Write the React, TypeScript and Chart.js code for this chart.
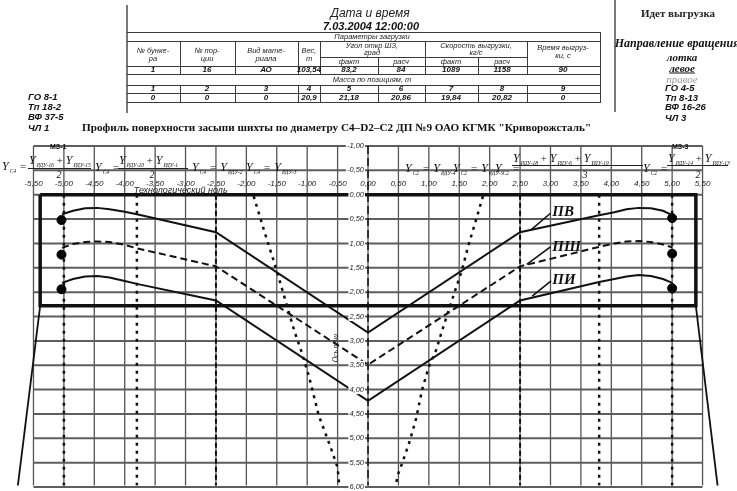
import React, { useEffect, useRef } from "react";
import { Chart, registerables } from "chart.js";

Chart.register(...registerables);

// ---------- DATA ----------
const profileX = [-5.03, -4.85, -4.65, -4.45, -4.25, -4.0, -3.8, -2.5, 0, 2.5, 3.8, 4.05, 4.25, 4.45, 4.65, 4.85, 5.0];
const pvY = [0.40, 0.33, 0.28, 0.27, 0.30, 0.35, 0.40, 0.77, 2.83, 0.77, 0.42, 0.36, 0.30, 0.27, 0.28, 0.33, 0.42];
const pshY = [1.09, 1.01, 0.97, 0.96, 0.97, 1.03, 1.10, 1.47, 3.49, 1.47, 1.07, 1.00, 0.96, 0.95, 0.97, 1.02, 1.08];
const piY = [1.81, 1.73, 1.68, 1.67, 1.70, 1.77, 1.83, 2.17, 4.23, 2.17, 1.79, 1.73, 1.68, 1.65, 1.67, 1.73, 1.81];

const dotsX = [-5.04, -5.04, -5.04, 5.0, 5.0, 5.0];
const dotsY = [0.52, 1.23, 1.94, 0.48, 1.21, 1.92];

const trajLeftX = [-1.88, -1.70, -1.50, -1.37, -1.21, -1.10, -0.97, -0.81, -0.61, -0.50, -0.47];
const trajLeftY = [0.03, 0.77, 1.56, 2.12, 2.80, 3.20, 3.73, 4.53, 5.20, 5.60, 6.0];
const trajRightX = [1.89, 1.78, 1.65, 1.54, 1.41, 1.21, 1.12, 1.00, 0.89, 0.79, 0.68, 0.57, 0.49, 0.45];
const trajRightY = [0.03, 0.50, 1.04, 1.57, 2.05, 2.82, 3.19, 3.53, 4.00, 4.60, 5.08, 5.48, 5.75, 6.0];

const frameX = [-5.39, 5.39, 5.39, -5.39, -5.39];
const frameY = [0, 0, 2.28, 2.28, 0];
const slantLeftX = [-5.39, -5.76];
const slantRightX = [5.39, 5.75];
const slantY = [2.28, 6.0];

const dottedGuidesX = [-5.0, -3.8, 3.8, 5.0];
const dashedGuidesX = [-2.5, 2.5];
const axisGuideY = [-1, 6];
const guideY = [0, 6];

const seriesNames = ["ПВ", "ПШ", "ПИ"];
const leaderFromX = [3.0, 3.0, 3.01];
const leaderFromY = [0.38, 1.07, 1.77];
const leaderToX = [2.67, 2.61, 2.70];
const leaderToY = [0.73, 1.43, 2.08];
const nameX = [3.03, 3.03, 3.03];
const nameY = [0.36, 1.07, 1.76];

const xTickValues = [-5.5, -5, -4.5, -4, -3.5, -3, -2.5, -2, -1.5, -1, -0.5, 0, 0.5, 1, 1.5, 2, 2.5, 3, 3.5, 4, 4.5, 5, 5.5];
const xTickLabels = ["-5,50", "-5,00", "-4,50", "-4,00", "-3,50", "-3,00", "-2,50", "-2,00", "-1,50", "-1,00", "-0,50", "0,00", "0,50", "1,00", "1,50", "2,00", "2,50", "3,00", "3,50", "4,00", "4,50", "5,00", "5,50"];
const yTickValues = [-1, -0.5, 0, 0.5, 1, 1.5, 2, 2.5, 3, 3.5, 4, 4.5, 5, 5.5, 6];
const yTickLabels = ["-1,00", "-0,50", "0,00", "0,50", "1,00", "1,50", "2,00", "2,50", "3,00", "3,50", "4,00", "4,50", "5,00", "5,50", "6,00"];

// table content
const colCenters = [153, 207, 266, 309, 349, 401, 451, 502, 563];
const loadRow = ["1", "16", "АО", "103,54", "83,2", "84", "1089", "1158", "90"];
const positionRow = ["1", "2", "3", "4", "5", "6", "7", "8", "9"];
const massRow = ["0", "0", "0", "20,9", "21,18", "20,86", "19,84", "20,82", "0"];

// ---------- helpers ----------
const pts = (xs: number[], ys: number[]) => xs.map((x, i) => ({ x, y: ys[i] }));

const paperPlugin = {
  id: "paper",
  beforeDatasetsDraw(chart: any) {
    const { ctx, scales } = chart;
    const x = scales.x, y = scales.y;
    ctx.save();
    ctx.strokeStyle = "#555";
    ctx.lineWidth = 1.3;
    const top = y.getPixelForValue(-1);
    for (const v of xTickValues) {
      const px = x.getPixelForValue(v);
      ctx.beginPath();
      ctx.moveTo(px, top);
      ctx.lineTo(px, y.bottom);
      ctx.stroke();
    }
    ctx.strokeStyle = "#5e5e5e";
    ctx.lineWidth = 2;
    const l = x.getPixelForValue(-5.5), r = x.getPixelForValue(5.5);
    for (const v of yTickValues) {
      const py = y.getPixelForValue(v);
      ctx.beginPath();
      ctx.moveTo(l, py);
      ctx.lineTo(r, py);
      ctx.stroke();
    }
    ctx.restore();
  },
  afterDatasetsDraw(chart: any) {
    const { ctx, scales } = chart;
    const x = scales.x, y = scales.y;
    ctx.save();
    // x tick labels
    ctx.font = "italic 8px 'Liberation Sans', Arial, sans-serif";
    ctx.fillStyle = "#222";
    ctx.textAlign = "center";
    ctx.textBaseline = "middle";
    xTickValues.forEach((v, i) => {
      ctx.fillText(xTickLabels[i], x.getPixelForValue(v), 184);
    });
    // y tick labels along the furnace axis
    ctx.font = "italic 7.5px 'Liberation Sans', Arial, sans-serif";
    ctx.textAlign = "right";
    const x0 = x.getPixelForValue(0);
    yTickValues.forEach((v, i) => {
      const py = y.getPixelForValue(v);
      const w = ctx.measureText(yTickLabels[i]).width;
      ctx.fillStyle = "#fff";
      ctx.fillRect(x0 - 4 - w - 1, py - 4.5, w + 2, 9);
      ctx.fillStyle = "#222";
      ctx.fillText(yTickLabels[i], x0 - 4, py);
    });
    // Технологический ноль
    ctx.font = "italic 9px 'Liberation Sans', Arial, sans-serif";
    ctx.textAlign = "center";
    ctx.fillStyle = "#222";
    ctx.fillText("Технологический ноль", x.getPixelForValue(-3.08), 190);
    // Ось печи (rotated)
    ctx.save();
    ctx.translate(x.getPixelForValue(-0.53), y.getPixelForValue(3.15));
    ctx.rotate(-Math.PI / 2);
    ctx.font = "italic 7.5px 'Liberation Serif', serif";
    ctx.fillText("Ось печи", 0, 0);
    ctx.restore();
    // series names
    ctx.font = "bold italic 15px 'Liberation Serif', serif";
    ctx.textAlign = "left";
    ctx.fillStyle = "#111";
    seriesNames.forEach((n, i) => {
      ctx.fillText(n, x.getPixelForValue(nameX[i]), y.getPixelForValue(nameY[i]));
    });
    ctx.restore();
  },
};

// ---------- small DOM helpers ----------
const T = ({ x, y, children, style, anchor = "left" }: any) => {
  const tx = anchor === "center" ? "-50%" : anchor === "right" ? "-100%" : "0";
  return (
    <div
      style={{
        position: "absolute",
        left: x,
        top: y,
        transform: `translate(${tx}, -50%)`,
        whiteSpace: "nowrap",
        lineHeight: 1,
        ...style,
      }}
    >
      {children}
    </div>
  );
};

const HL = ({ x1, x2, y, c = "#3a3a3a", w = 1 }: any) => (
  <div style={{ position: "absolute", left: x1, top: y, width: x2 - x1, height: w, background: c }} />
);
const VL = ({ x, y1, y2, c = "#3a3a3a", w = 1 }: any) => (
  <div style={{ position: "absolute", left: x, top: y1, width: w, height: y2 - y1, background: c }} />
);

const serifF = "'Liberation Serif', 'Times New Roman', serif";
const sansF = "'Liberation Sans', Arial, sans-serif";

const Yv = ({ s }: any) => (
  <span>
    <span style={{ fontStyle: "italic", fontSize: 12 }}>Y</span>
    <span style={{ fontStyle: "italic", fontSize: 5.5, position: "relative", top: 3, marginLeft: 1 }}>{s}</span>
  </span>
);

const fStyle = { fontFamily: serifF, color: "#111" };

const Inline = ({ x, y, lhs, rhs }: any) => (
  <T x={x} y={y} style={fStyle}>
    <Yv s={lhs} /> <span style={{ fontSize: 11 }}>=</span> {rhs ? <Yv s={rhs} /> : null}
  </T>
);

const Frac = ({ x, y, terms, x1, x2, barY, den, denX, denY }: any) => (
  <>
    <T x={x} y={y} style={fStyle}>
      {terms.map((t: string, i: number) => (
        <span key={i}>
          {i > 0 ? <span style={{ fontSize: 11 }}> + </span> : null}
          <Yv s={t} />
        </span>
      ))}
    </T>
    <HL x1={x1} x2={x2} y={barY} c="#222" />
    <T x={denX} y={denY} anchor="center" style={{ ...fStyle, fontSize: 10, fontStyle: "italic" }}>
      {den}
    </T>
  </>
);

export default function App() {
  const ref = useRef<HTMLCanvasElement>(null);

  useEffect(() => {
    if (!ref.current) return;
    const solid = (data: any[], w = 2) => ({
      data,
      showLine: true,
      borderColor: "#111",
      borderWidth: w,
      pointRadius: 0,
      fill: false,
    });
    const dashed = (data: any[], dash: number[], w = 2) => ({ ...solid(data, w), borderDash: dash });

    const datasets: any[] = [
      ...dottedGuidesX.map((gx) => dashed(pts([gx, gx], guideY), [3, 5], 2.5)),
      ...dashedGuidesX.map((gx) => dashed(pts([gx, gx], guideY), [5, 3], 2)),
      dashed(pts([0, 0], axisGuideY), [8, 4], 1.5),
      solid(pts(frameX, frameY), 3.5),
      solid(pts(slantLeftX, slantY), 1.8),
      solid(pts(slantRightX, slantY), 1.8),
      dashed(pts(trajLeftX, trajLeftY), [3, 5], 2.5),
      dashed(pts(trajRightX, trajRightY), [3, 5], 2.5),
      { ...solid(pts(profileX, pvY), 2), label: "ПВ" },
      { ...dashed(pts(profileX, pshY), [7, 4], 2), label: "ПШ" },
      { ...solid(pts(profileX, piY), 2), label: "ПИ" },
      ...leaderFromX.map((fx, i) => solid(pts([fx, leaderToX[i]], [leaderFromY[i], leaderToY[i]]), 1.6)),
      {
        data: pts(dotsX, dotsY),
        showLine: false,
        pointRadius: 4.5,
        pointBackgroundColor: "#000",
        pointBorderColor: "#000",
      },
    ];

    const chart = new Chart(ref.current, {
      type: "scatter",
      data: { datasets },
      options: {
        animation: false,
        responsive: false,
        devicePixelRatio: 1,
        layout: { padding: { top: 146, left: 0, right: 0, bottom: 0 } },
        plugins: { legend: { display: false }, tooltip: { enabled: false } },
        scales: {
          x: { type: "linear", min: -5.96, max: 5.976, display: false },
          y: { type: "linear", reverse: true, min: -1, max: 5.968, display: false },
        },
        elements: { line: { tension: 0, borderCapStyle: "butt" } },
      },
      plugins: [paperPlugin],
    });
    return () => chart.destroy();
  }, []);

  const hdr = { fontFamily: sansF, fontStyle: "italic", fontSize: 7.5, color: "#222" };
  const cell = { fontFamily: sansF, fontStyle: "italic", fontWeight: "bold", fontSize: 8, color: "#111" };
  const side = { fontFamily: sansF, fontStyle: "italic", fontWeight: "bold", fontSize: 9.5, color: "#111" };

  return (
    <div
      style={{
        position: "fixed",
        left: 0,
        top: 0,
        width: 737,
        height: 491,
        overflow: "hidden",
        background: "#fff",
      }}
    >
      <canvas ref={ref} width={737} height={491} style={{ position: "absolute", left: 0, top: 0 }} />

      {/* ---- header table ---- */}
      <VL x={126} y1={5} y2={113} c="#777" w={2} />
      <VL x={614} y1={0} y2={112} c="#777" w={1.5} />
      <HL x1={127} x2={600} y={32} />
      <HL x1={127} x2={600} y={41} />
      <HL x1={127} x2={600} y={66} />
      <HL x1={127} x2={600} y={74} />
      <HL x1={127} x2={600} y={85} />
      <HL x1={127} x2={600} y={93} />
      <HL x1={127} x2={600} y={102} />
      <HL x1={320} x2={527} y={57} />
      <VL x={600} y1={32} y2={103} />
      {[180, 235, 298, 320, 425, 527].map((cx) => (
        <VL key={"a" + cx} x={cx} y1={41} y2={74} />
      ))}
      {[378, 478].map((cx) => (
        <VL key={"b" + cx} x={cx} y1={57} y2={74} />
      ))}
      {[180, 235, 298, 320, 378, 425, 478, 527].map((cx) => (
        <VL key={"c" + cx} x={cx} y1={85} y2={102} />
      ))}

      <T x={370} y={13} anchor="center" style={{ fontFamily: sansF, fontStyle: "italic", fontSize: 12, color: "#222" }}>
        Дата и время
      </T>
      <T x={371} y={26} anchor="center" style={{ fontFamily: sansF, fontStyle: "italic", fontWeight: "bold", fontSize: 11, color: "#111" }}>
        7.03.2004 12:00:00
      </T>
      <T x={372} y={36.5} anchor="center" style={hdr}>Параметры загрузки</T>

      <T x={153} y={51} anchor="center" style={hdr}>№ бунке-</T>
      <T x={153} y={59} anchor="center" style={hdr}>ра</T>
      <T x={207} y={51} anchor="center" style={hdr}>№ пор-</T>
      <T x={207} y={59} anchor="center" style={hdr}>ции</T>
      <T x={266} y={51} anchor="center" style={hdr}>Вид мате-</T>
      <T x={266} y={59} anchor="center" style={hdr}>риала</T>
      <T x={309} y={51} anchor="center" style={hdr}>Вес,</T>
      <T x={309} y={59} anchor="center" style={hdr}>т</T>
      <T x={372} y={46} anchor="center" style={hdr}>Угол откр ШЗ,</T>
      <T x={372} y={53} anchor="center" style={hdr}>град</T>
      <T x={476} y={46} anchor="center" style={hdr}>Скорость выгрузки,</T>
      <T x={476} y={53} anchor="center" style={hdr}>кг/с</T>
      <T x={563} y={48} anchor="center" style={hdr}>Время выгруз-</T>
      <T x={563} y={56} anchor="center" style={hdr}>ки, с</T>
      <T x={349} y={61.5} anchor="center" style={hdr}>факт</T>
      <T x={401} y={61.5} anchor="center" style={hdr}>расч</T>
      <T x={451} y={61.5} anchor="center" style={hdr}>факт</T>
      <T x={502} y={61.5} anchor="center" style={hdr}>расч</T>

      {loadRow.map((v, i) => (
        <T key={"l" + i} x={colCenters[i]} y={70} anchor="center" style={cell}>{v}</T>
      ))}
      <T x={372} y={79.5} anchor="center" style={hdr}>Масса по позициям, т</T>
      {positionRow.map((v, i) => (
        <T key={"p" + i} x={colCenters[i]} y={89} anchor="center" style={cell}>{v}</T>
      ))}
      {massRow.map((v, i) => (
        <T key={"m" + i} x={colCenters[i]} y={97.5} anchor="center" style={cell}>{v}</T>
      ))}

      {/* ---- side notes ---- */}
      <T x={28} y={97} style={side}>ГО 8-1</T>
      <T x={28} y={107} style={side}>Тп 18-2</T>
      <T x={28} y={117} style={side}>ВФ 37-5</T>
      <T x={28} y={128} style={side}>ЧЛ 1</T>

      <T x={678} y={13} anchor="center" style={{ fontFamily: serifF, fontWeight: "bold", fontSize: 11, color: "#222" }}>
        Идет выгрузка
      </T>
      <T x={677} y={43} anchor="center" style={{ fontFamily: serifF, fontWeight: "bold", fontStyle: "italic", fontSize: 12, color: "#111" }}>
        Направление вращения
      </T>
      <T x={682} y={57} anchor="center" style={{ fontFamily: serifF, fontWeight: "bold", fontStyle: "italic", fontSize: 11, color: "#111" }}>
        лотка
      </T>
      <T x={682} y={68} anchor="center" style={{ fontFamily: serifF, fontWeight: "bold", fontStyle: "italic", fontSize: 11, color: "#111", textDecoration: "underline" }}>
        левое
      </T>
      <T x={682} y={79} anchor="center" style={{ fontFamily: serifF, fontStyle: "italic", fontSize: 11, color: "#9a9a9a" }}>
        правое
      </T>
      <T x={665} y={88} style={side}>ГО 4-5</T>
      <T x={665} y={98} style={side}>Тп 8-13</T>
      <T x={665} y={107} style={side}>ВФ 16-26</T>
      <T x={665} y={118} style={side}>ЧЛ 3</T>

      <T x={82} y={128} style={{ fontFamily: serifF, fontWeight: "bold", fontSize: 11.2, color: "#111" }}>
        Профиль поверхности засыпи шихты по диаметру С4–D2–С2 ДП №9 ОАО КГМК "Криворожсталь"
      </T>

      {/* ---- formulas ---- */}
      <T x={50} y={146} style={{ fontFamily: sansF, fontWeight: "bold", fontSize: 7, color: "#111" }}>МЗ-1</T>
      <T x={672} y={146} style={{ fontFamily: sansF, fontWeight: "bold", fontSize: 7, color: "#111" }}>МЗ-3</T>

      <Inline x={2} y={165} lhs="C4" />
      <Frac x={29} y={159} terms={["РДУ-16", "РДУ-15"]} x1={28} x2={91} barY={168} den="2" denX={59} denY={175} />
      <Inline x={95} y={166} lhs="C4" />
      <Frac x={119} y={159} terms={["РДУ-20", "РДУ-1"]} x1={118} x2={188} barY={168} den="2" denX={152} denY={175} />
      <Inline x={192} y={166} lhs="C4" rhs="РДУ-2" />
      <Inline x={246} y={166} lhs="C4" rhs="РДУ-3" />

      <Inline x={405} y={167} lhs="C2" rhs="РДУ-4" />
      <Inline x={453} y={167} lhs="C2" rhs="РДУ-5" />
      <Inline x={495} y={167} lhs="C2" />
      <Frac x={513} y={157} terms={["РДУ-18", "РДУ-6", "РДУ-19"]} x1={512} x2={643} barY={165} den="3" denX={585} denY={175} />
      <Inline x={643} y={167} lhs="C2" />
      <Frac x={668} y={157} terms={["РДУ-14", "РДУ-13"]} x1={667} x2={728} barY={165} den="2" denX={698} denY={175} />
    </div>
  );
}
